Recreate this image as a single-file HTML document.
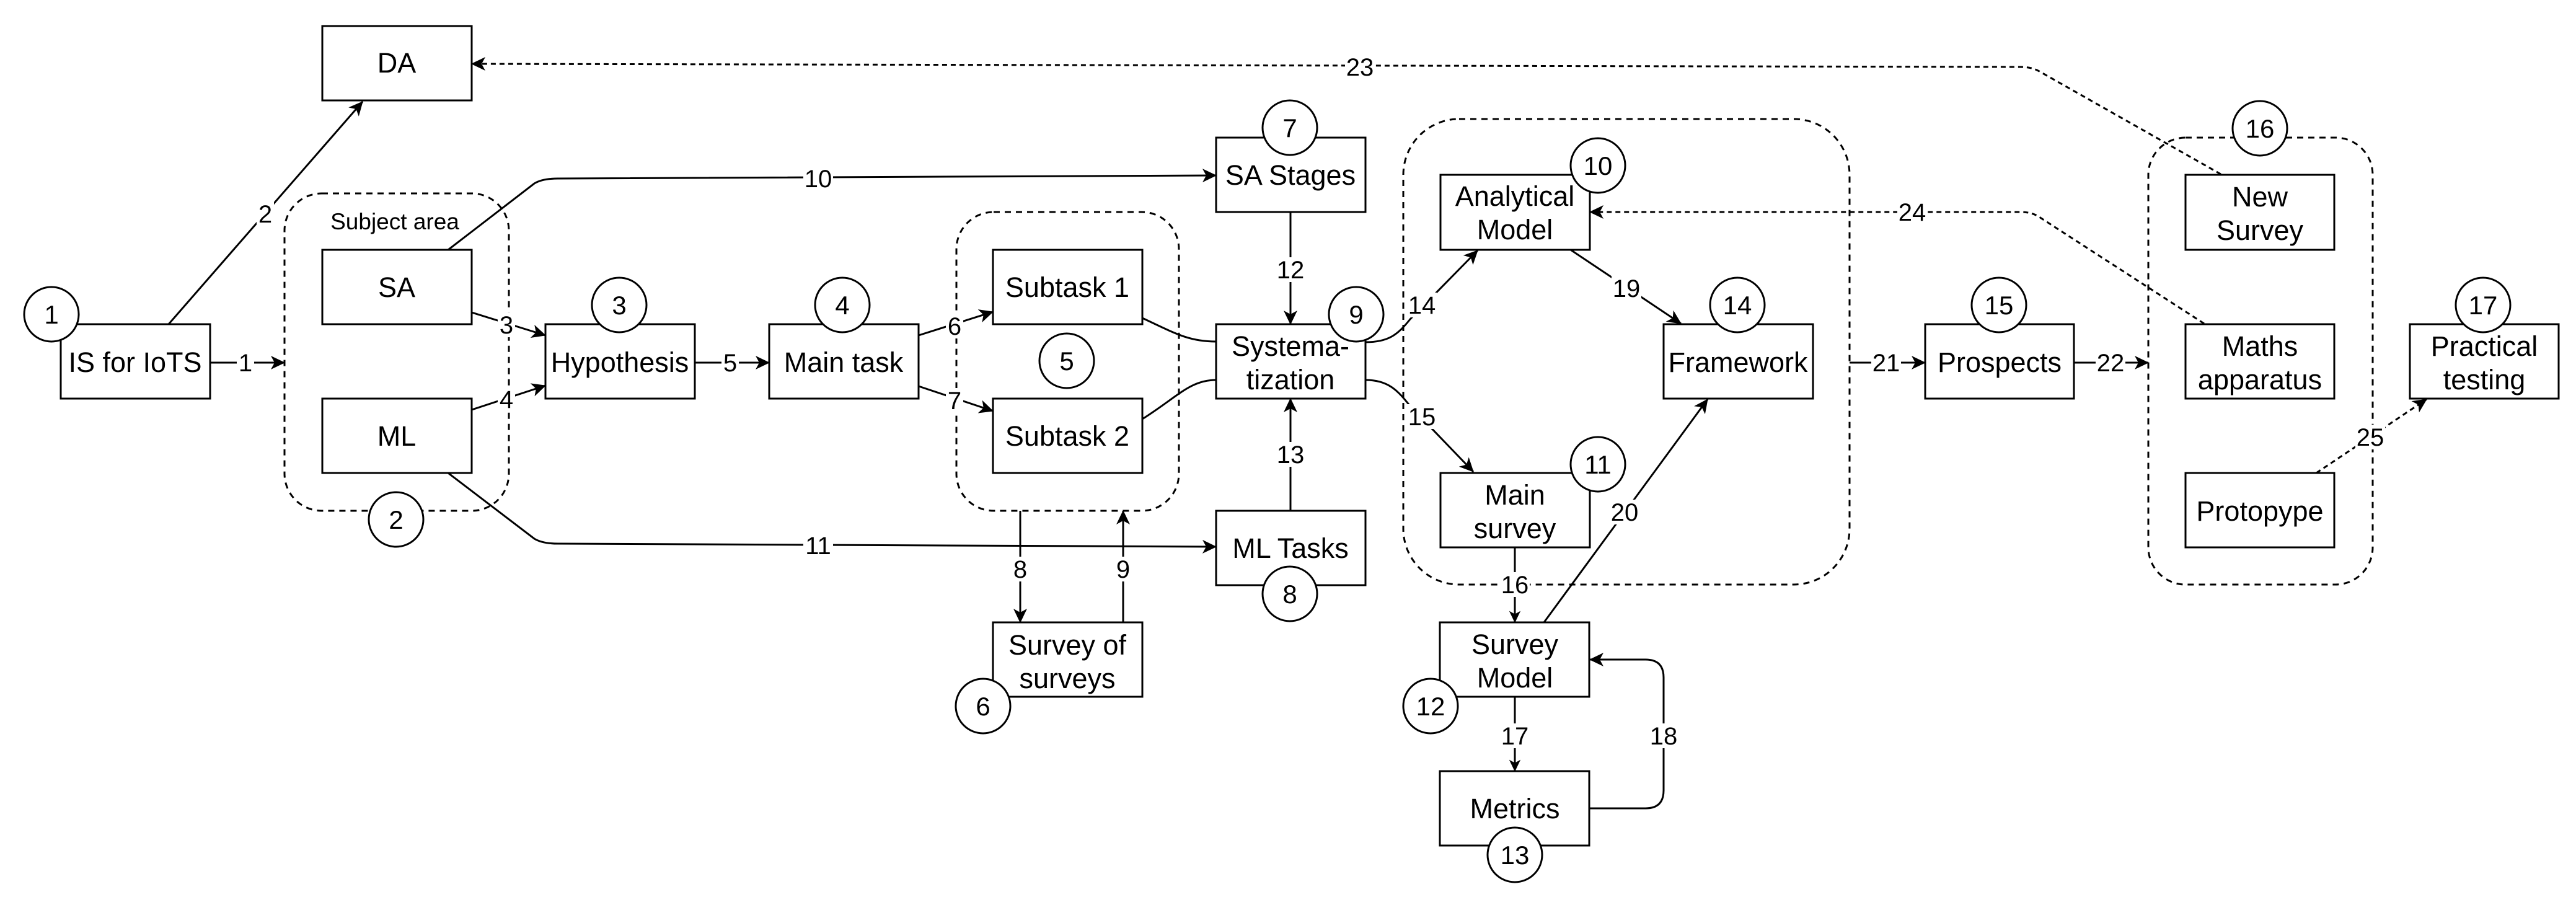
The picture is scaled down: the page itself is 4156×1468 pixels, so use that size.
<!DOCTYPE html>
<html><head><meta charset="utf-8"><style>
html,body{margin:0;padding:0;background:#fff}
svg{display:block}
text{font-family:"Liberation Sans",Arial,Helvetica,sans-serif;fill:#000}
.b{font-size:45px}
.l{font-size:40px}
.c{font-size:42px}
</style></head><body>
<svg width="4156" height="1468" viewBox="0 0 4156 1468" xmlns="http://www.w3.org/2000/svg" font-family="Liberation Sans, Arial, sans-serif">
<defs>
<marker id="a" viewBox="0 0 24 24" refX="22" refY="12" markerWidth="24" markerHeight="24" markerUnits="userSpaceOnUse" orient="auto">
<path d="M0,1 L23,12 L0,23 L6,12 Z" fill="#000"/>
</marker>
<marker id="s" viewBox="0 0 24 24" refX="22" refY="12" markerWidth="20" markerHeight="20" markerUnits="userSpaceOnUse" orient="auto">
<path d="M0,1 L23,12 L0,23 L6,12 Z" fill="#000"/>
</marker>
</defs>
<g fill="none" stroke="#000" stroke-width="3">
<g stroke-dasharray="10 8">
<rect x="459" y="312" width="362" height="512" rx="60"/>
<rect x="1543" y="342" width="359" height="482" rx="60"/>
<rect x="2264" y="192" width="720" height="751" rx="90"/>
<rect x="3466" y="222" width="362" height="721" rx="60"/>
</g>
<path d="M272,523 L585,164" marker-end="url(#a)"/>
<path d="M339,585 L459,585" marker-end="url(#a)"/>
<path d="M761,504 L880,541" marker-end="url(#a)"/>
<path d="M761,661 L880,622" marker-end="url(#a)"/>
<path d="M1121,585 L1241,585" marker-end="url(#a)"/>
<path d="M1482,541 L1602,503" marker-end="url(#a)"/>
<path d="M1482,623 L1602,663" marker-end="url(#a)"/>
<path d="M723,403 L862,296 Q875,288 900,288 L1962,283" marker-end="url(#a)"/>
<path d="M723,763 L862,869 Q875,877 900,877 L1962,882" marker-end="url(#a)"/>
<path d="M1843,513 C1900,540 1920,551 1962,551"/>
<path d="M1843,676 C1900,640 1920,613 1962,613"/>
<path d="M1646,824 L1646,1004" marker-end="url(#a)"/>
<path d="M1812,1004 L1812,824" marker-end="url(#a)"/>
<path d="M2082,342 L2082,523" marker-end="url(#a)"/>
<path d="M2082,824 L2082,643" marker-end="url(#a)"/>
<path d="M2203,552 C2240,552 2255,540 2275,515 L2384,404" marker-end="url(#a)"/>
<path d="M2203,613 C2240,613 2255,630 2275,655 L2377,761" marker-end="url(#a)"/>
<path d="M2534,403 L2712,522" marker-end="url(#a)"/>
<path d="M2491,1004 L2755,644" marker-end="url(#a)"/>
<path d="M2444,883 L2444,1004" marker-end="url(#s)"/>
<path d="M2444,1124 L2444,1244" marker-end="url(#s)"/>
<path d="M2565,1304 L2655,1304 Q2684,1304 2684,1275 L2684,1093 Q2684,1064 2655,1064 L2565,1064" marker-end="url(#a)"/>
<path d="M2984,585 L3106,585" marker-end="url(#a)"/>
<path d="M3346,585 L3466,585" marker-end="url(#a)"/>
<g stroke-dasharray="8 6">
<path d="M3583,281 L3290,115 Q3278,108 3260,108 L761,103" marker-end="url(#a)"/>
<path d="M3556,522 L3290,350 Q3278,342 3260,342 L2565,342" marker-end="url(#a)"/>
<path d="M3737,763 L3915,644" marker-end="url(#a)"/>
</g>
<g fill="#fff">
<rect x="520" y="42" width="241" height="120"/>
<rect x="98" y="523" width="241" height="120"/>
<rect x="520" y="403" width="241" height="120"/>
<rect x="520" y="643" width="241" height="120"/>
<rect x="880" y="523" width="241" height="120"/>
<rect x="1241" y="523" width="241" height="120"/>
<rect x="1602" y="403" width="241" height="120"/>
<rect x="1602" y="643" width="241" height="120"/>
<rect x="1602" y="1004" width="241" height="120"/>
<rect x="1962" y="222" width="241" height="120"/>
<rect x="1962" y="523" width="241" height="120"/>
<rect x="1962" y="824" width="241" height="120"/>
<rect x="2324" y="282" width="241" height="121"/>
<rect x="2684" y="523" width="241" height="120"/>
<rect x="2324" y="763" width="241" height="120"/>
<rect x="2323" y="1004" width="241" height="120"/>
<rect x="2323" y="1244" width="241" height="120"/>
<rect x="3106" y="523" width="240" height="120"/>
<rect x="3526" y="282" width="240" height="121"/>
<rect x="3526" y="523" width="240" height="120"/>
<rect x="3526" y="763" width="240" height="120"/>
<rect x="3888" y="523" width="240" height="120"/>
<circle cx="83" cy="507" r="44"/>
<circle cx="639" cy="838" r="44"/>
<circle cx="999" cy="492" r="44"/>
<circle cx="1359" cy="492" r="44"/>
<circle cx="1721" cy="582" r="44"/>
<circle cx="1586" cy="1139" r="44"/>
<circle cx="2081" cy="206" r="44"/>
<circle cx="2081" cy="958" r="44"/>
<circle cx="2188" cy="507" r="44"/>
<circle cx="2578" cy="267" r="44"/>
<circle cx="2578" cy="749" r="44"/>
<circle cx="2308" cy="1139" r="44"/>
<circle cx="2444" cy="1379" r="44"/>
<circle cx="2803" cy="492" r="44"/>
<circle cx="3225" cy="492" r="44"/>
<circle cx="3646" cy="207" r="44"/>
<circle cx="4006" cy="492" r="44"/>
</g>
</g>
<!-- label backgrounds -->
<g fill="#fff">
<rect x="382" y="565" width="28" height="40"/>
<rect x="414" y="325" width="28" height="40"/>
<rect x="803" y="504" width="28" height="40"/>
<rect x="803" y="624" width="28" height="40"/>
<rect x="1164" y="565" width="28" height="40"/>
<rect x="1526" y="506" width="28" height="40"/>
<rect x="1526" y="626" width="28" height="40"/>
<rect x="1632" y="898" width="28" height="40"/>
<rect x="1798" y="898" width="28" height="40"/>
<rect x="1296" y="268" width="48" height="40"/>
<rect x="1296" y="860" width="48" height="40"/>
<rect x="2058" y="415" width="48" height="40"/>
<rect x="2058" y="713" width="48" height="40"/>
<rect x="2270" y="472" width="48" height="40"/>
<rect x="2270" y="652" width="48" height="40"/>
<rect x="2420" y="923" width="48" height="40"/>
<rect x="2420" y="1167" width="48" height="40"/>
<rect x="2660" y="1167" width="48" height="40"/>
<rect x="2600" y="445" width="48" height="40"/>
<rect x="2597" y="806" width="48" height="40"/>
<rect x="3019" y="565" width="48" height="40"/>
<rect x="3381" y="565" width="48" height="40"/>
<rect x="2170" y="88" width="48" height="40"/>
<rect x="3061" y="322" width="48" height="40"/>
<rect x="3800" y="685" width="48" height="40"/>
</g>
<g class="b" text-anchor="middle">
<text x="640" y="117">DA</text>
<text x="218" y="600">IS for IoTS</text>
<text x="640" y="479">SA</text>
<text x="640" y="719">ML</text>
<text x="1000" y="600">Hypothesis</text>
<text x="1361" y="600">Main task</text>
<text x="1722" y="479">Subtask 1</text>
<text x="1722" y="719">Subtask 2</text>
<text x="1722" y="1056">Survey of</text>
<text x="1722" y="1110">surveys</text>
<text x="2082" y="298">SA Stages</text>
<text x="2082" y="574">Systema-</text>
<text x="2082" y="628">tization</text>
<text x="2082" y="900">ML Tasks</text>
<text x="2444" y="332">Analytical</text>
<text x="2444" y="386">Model</text>
<text x="2804" y="600">Framework</text>
<text x="2444" y="814">Main</text>
<text x="2444" y="868">survey</text>
<text x="2444" y="1055">Survey</text>
<text x="2444" y="1109">Model</text>
<text x="2444" y="1320">Metrics</text>
<text x="3226" y="600">Prospects</text>
<text x="3646" y="333">New</text>
<text x="3646" y="387">Survey</text>
<text x="3646" y="574">Maths</text>
<text x="3646" y="628">apparatus</text>
<text x="3646" y="840">Protopype</text>
<text x="4008" y="574">Practical</text>
<text x="4008" y="628">testing</text>
</g>
<text x="637" y="370" font-size="37" text-anchor="middle">Subject area</text>
<g class="c" text-anchor="middle">
<text x="83" y="522">1</text>
<text x="639" y="853">2</text>
<text x="999" y="507">3</text>
<text x="1359" y="507">4</text>
<text x="1721" y="597">5</text>
<text x="1586" y="1154">6</text>
<text x="2081" y="221">7</text>
<text x="2081" y="973">8</text>
<text x="2188" y="522">9</text>
<text x="2578" y="282">10</text>
<text x="2578" y="764">11</text>
<text x="2308" y="1154">12</text>
<text x="2444" y="1394">13</text>
<text x="2803" y="507">14</text>
<text x="3225" y="507">15</text>
<text x="3646" y="222">16</text>
<text x="4006" y="507">17</text>
</g>
<g class="l" text-anchor="middle">
<text x="396" y="599">1</text>
<text x="428" y="359">2</text>
<text x="817" y="538">3</text>
<text x="817" y="658">4</text>
<text x="1178" y="599">5</text>
<text x="1540" y="540">6</text>
<text x="1540" y="660">7</text>
<text x="1646" y="932">8</text>
<text x="1812" y="932">9</text>
<text x="1320" y="302">10</text>
<text x="1320" y="894">11</text>
<text x="2082" y="449">12</text>
<text x="2082" y="747">13</text>
<text x="2294" y="506">14</text>
<text x="2294" y="686">15</text>
<text x="2444" y="957">16</text>
<text x="2444" y="1201">17</text>
<text x="2684" y="1201">18</text>
<text x="2624" y="479">19</text>
<text x="2621" y="840">20</text>
<text x="3043" y="599">21</text>
<text x="3405" y="599">22</text>
<text x="2194" y="122">23</text>
<text x="3085" y="356">24</text>
<text x="3824" y="719">25</text>
</g>
</svg>
</body></html>
